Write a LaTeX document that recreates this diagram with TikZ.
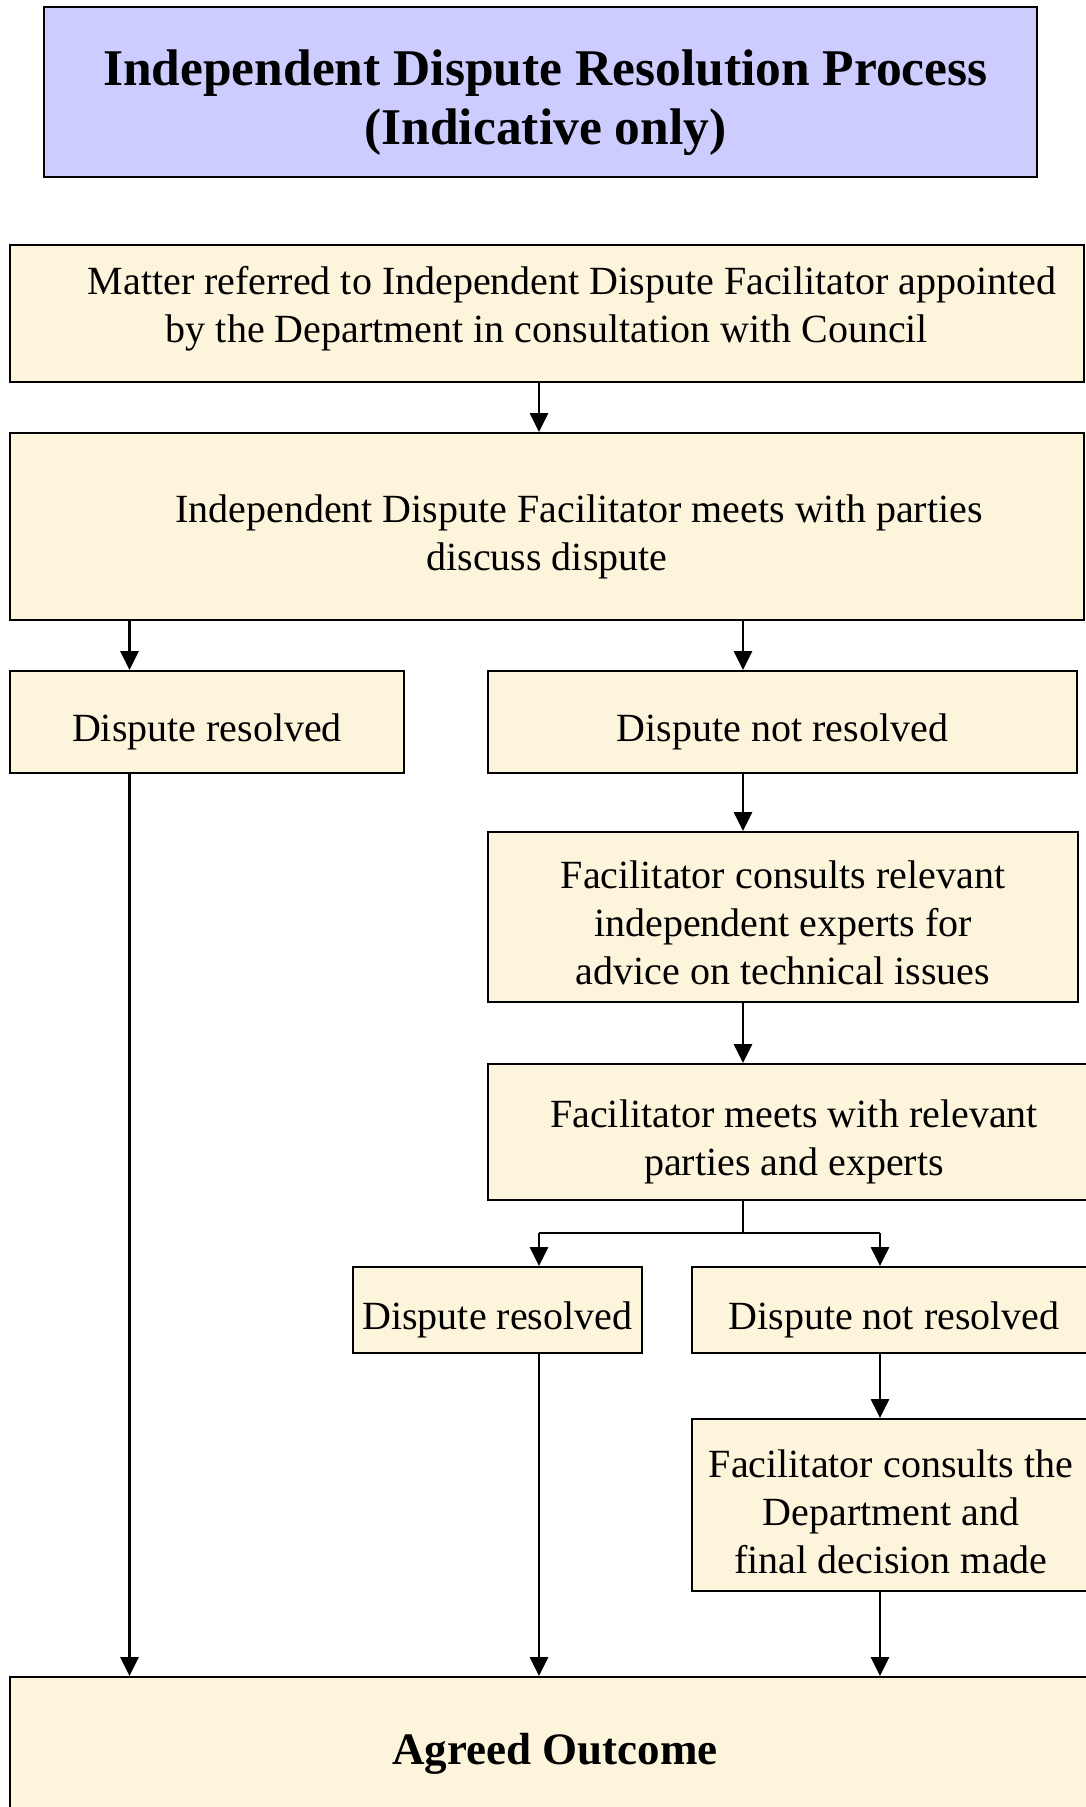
\documentclass[tikz,border=0pt]{standalone}
\usepackage{fontspec}
\setmainfont{Liberation Serif}
\usetikzlibrary{arrows.meta}
\definecolor{parch}{RGB}{253,244,220}
\definecolor{titlefill}{RGB}{204,204,255}
\tikzset{
  box/.style={draw=black, line width=2pt, fill=parch, inner sep=0pt},
  titlebox/.style={draw=black, line width=2pt, fill=titlefill, inner sep=0pt},
  txt/.style={inner sep=0pt, align=center, font=\fontsize{40}{48}\selectfont},
  titletxt/.style={inner sep=0pt, align=center, font=\fontsize{51.5}{59}\selectfont\bfseries},
  arr/.style={line width=2.7pt, -{Triangle[length=19pt,width=18pt]}},
  trunk/.style={line width=1.4pt}
}
\begin{document}
\begin{tikzpicture}[x=1pt,y=-1pt]
\useasboundingbox (0,0) rectangle (1086,1807);
\clip (0,0) rectangle (1086,1807);
\fill[white] (0,0) rectangle (1086,1807);

% boxes
\node[titlebox, minimum width=993pt, minimum height=170pt] (title) at (540.5,92) {};
\node[box, minimum width=1074pt, minimum height=137pt] (box1) at (547,313.5) {};
\node[box, minimum width=1074pt, minimum height=187pt] (box2) at (547,526.5) {};
\node[box, minimum width=394pt, minimum height=102pt] (dr1) at (207,722) {};
\node[box, minimum width=589pt, minimum height=102pt] (dnr1) at (782.5,722) {};
\node[box, minimum width=590pt, minimum height=170pt] (fc) at (783,917) {};
\node[box, minimum width=612pt, minimum height=136pt] (fm) at (794,1132) {};
\node[box, minimum width=289pt, minimum height=86pt] (dr2) at (497.3,1310) {};
\node[box, minimum width=404pt, minimum height=86pt] (dnr2) at (894,1310) {};
\node[box, minimum width=398pt, minimum height=172pt] (fcd) at (891,1505) {};
\node[box, minimum width=1090pt, minimum height=153pt] (agreed) at (555,1753.5) {};

% texts
\node[titletxt] (titlet) at ([xshift=5pt,yshift=-11pt]title.center)
  {Independent Dispute Resolution Process\\(Indicative only)};
\node[txt] (box1t) at ([yshift=5pt]box1.center)
  {\hspace*{50pt}Matter referred to Independent Dispute Facilitator appointed\\by the Department in consultation with Council};
\node[txt] (box2t) at ([yshift=-10pt]box2.center)
  {\hspace*{64pt}Independent Dispute Facilitator meets with parties\\discuss dispute};
\node[txt] (dr1t) at ([yshift=-10pt]dr1.center) {Dispute resolved};
\node[txt] (dnr1t) at ([yshift=-10pt]dnr1.center) {Dispute not resolved};
\node[txt] (fct) at ([yshift=-6pt]fc.center)
  {Facilitator consults relevant\\independent experts for\\advice on technical issues};
\node[txt] (fmt) at ([yshift=-10pt]fm.center)
  {Facilitator meets with relevant\\parties and experts};
\node[txt] (dr2t) at ([yshift=-10pt]dr2.center) {Dispute resolved};
\node[txt] (dnr2t) at ([yshift=-10pt]dnr2.center) {Dispute not resolved};
\node[txt] (fcdt) at ([yshift=-7pt]fcd.center)
  {Facilitator consults the\\Department and\\final decision made};
\node[txt, font=\fontsize{45}{54}\selectfont\bfseries] (agreedt) at (agreed.center) {Agreed Outcome};

% connector x positions
\coordinate (xa) at (539,0);
\coordinate (xl) at (129.5,0);
\coordinate (xm) at (743,0);
\coordinate (xr) at (880,0);
\coordinate (bj) at (743,1233);
\coordinate (bl) at (539,1233);
\coordinate (br) at (880,1233);

\draw[arr] (box1.south -| xa) -- (box2.north -| xa);
\draw[arr] (box2.south -| xl) -- (dr1.north -| xl);
\draw[arr] (box2.south -| xm) -- (dnr1.north -| xm);
\draw[arr] (dnr1.south -| xm) -- (fc.north -| xm);
\draw[arr] (fc.south -| xm) -- (fm.north -| xm);
\draw[trunk] (fm.south -| xm) -- (bj);
\draw[trunk] (bl) -- (br);
\draw[arr] (bl) -- (dr2.north -| bl);
\draw[arr] (br) -- (dnr2.north -| br);
\draw[arr] (dnr2.south -| xr) -- (fcd.north -| xr);
\draw[arr] (dr1.south -| xl) -- (agreed.north -| xl);
\draw[arr] (dr2.south -| xa) -- (agreed.north -| xa);
\draw[arr] (fcd.south -| xr) -- (agreed.north -| xr);
\end{tikzpicture}
\end{document}
